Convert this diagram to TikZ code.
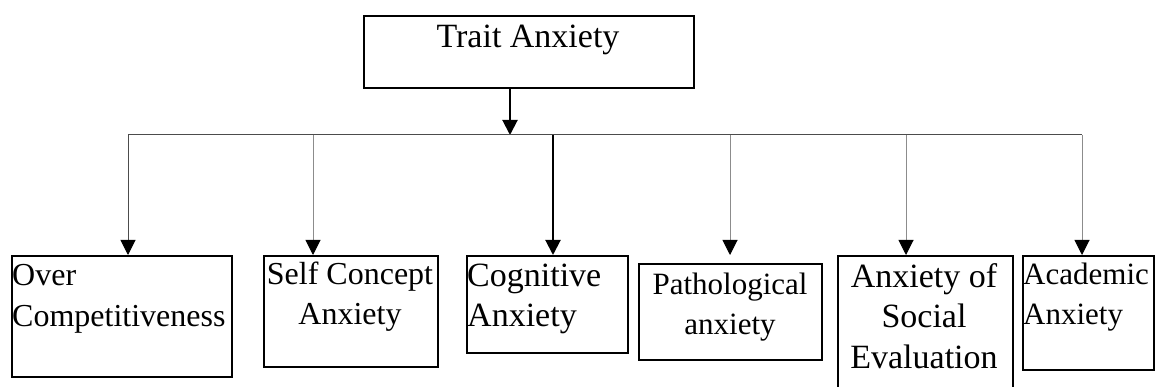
\documentclass[tikz,border=0pt]{standalone}
\usepackage{fontspec}
\setmainfont{Liberation Serif}
\usetikzlibrary{arrows.meta}
\begin{document}
\begin{tikzpicture}[x=1pt,y=-1pt,
  box/.style={draw, line width=1.8pt, inner sep=0pt, anchor=north west},
  lbl/.style 2 args={inner sep=0pt, font=\fontsize{#1}{#2}\selectfont},
  tip/.style={-{Triangle[width=15pt,length=15pt,color=black]}},
  main/.style={tip, line width=2pt, black},
  branch/.style={tip, line width=1pt, black!45},
  bus/.style={line width=1pt, black!70}]
\useasboundingbox (0,0) rectangle (1157,387);
% boxes
\node[box, minimum width=330pt, minimum height=72pt] (b0) at (363,15) {};
\node[box, minimum width=220pt, minimum height=121pt] (b1) at (11,255) {};
\node[box, minimum width=174pt, minimum height=111pt] (b2) at (263,255) {};
\node[box, minimum width=161pt, minimum height=97pt] (b3) at (466,255) {};
\node[box, minimum width=183pt, minimum height=96pt] (b4) at (638,263) {};
\node[box, minimum width=175pt, minimum height=140pt] (b5) at (837,255) {};
\node[box, minimum width=131pt, minimum height=114pt] (b6) at (1022,255) {};
% texts (base anchor = baseline of the last line)
\node[lbl={34}{40}, anchor=base] (t0) at (528,48) {Trait Anxiety};
\node[lbl={32}{42}, anchor=base west, align=left] (t1) at (12,327) {Over\\Competitiveness};
\node[lbl={32}{40}, anchor=base, align=center] (t2) at (350,325) {Self Concept\\Anxiety};
\node[lbl={34}{40}, anchor=base west, align=left] (t3) at (467,327) {Cognitive\\Anxiety};
\node[lbl={31}{40}, anchor=base, align=center] (t4) at (730,335) {Pathological\\anxiety};
\node[lbl={34}{40.5}, anchor=base, align=center] (t5) at (924,368) {Anxiety of\\Social\\Evaluation};
\node[lbl={31}{40}, anchor=base west, align=left] (t6) at (1023,325) {Academic\\Anxiety};
% connectors
\coordinate (hub) at (510,135);
\coordinate (j1) at (128,135);
\coordinate (j2) at (313,135);
\coordinate (j3) at (553,135);
\coordinate (j4) at (730,135);
\coordinate (j5) at (906,135);
\coordinate (j6) at (1082,135);
\draw[main] (b0.south -| hub) -- (hub);
\draw[bus] (j1) -- (j6);
\draw[branch, black!70] (j1) -- (j1 |- b1.north);
\draw[branch] (j2) -- (j2 |- b2.north);
\draw[main] (j3) -- (j3 |- b3.north);
\draw[branch] (j4) -- (j4 |- b2.north);
\draw[branch] (j5) -- (j5 |- b5.north);
\draw[branch] (j6) -- (j6 |- b6.north);
\end{tikzpicture}
\end{document}
